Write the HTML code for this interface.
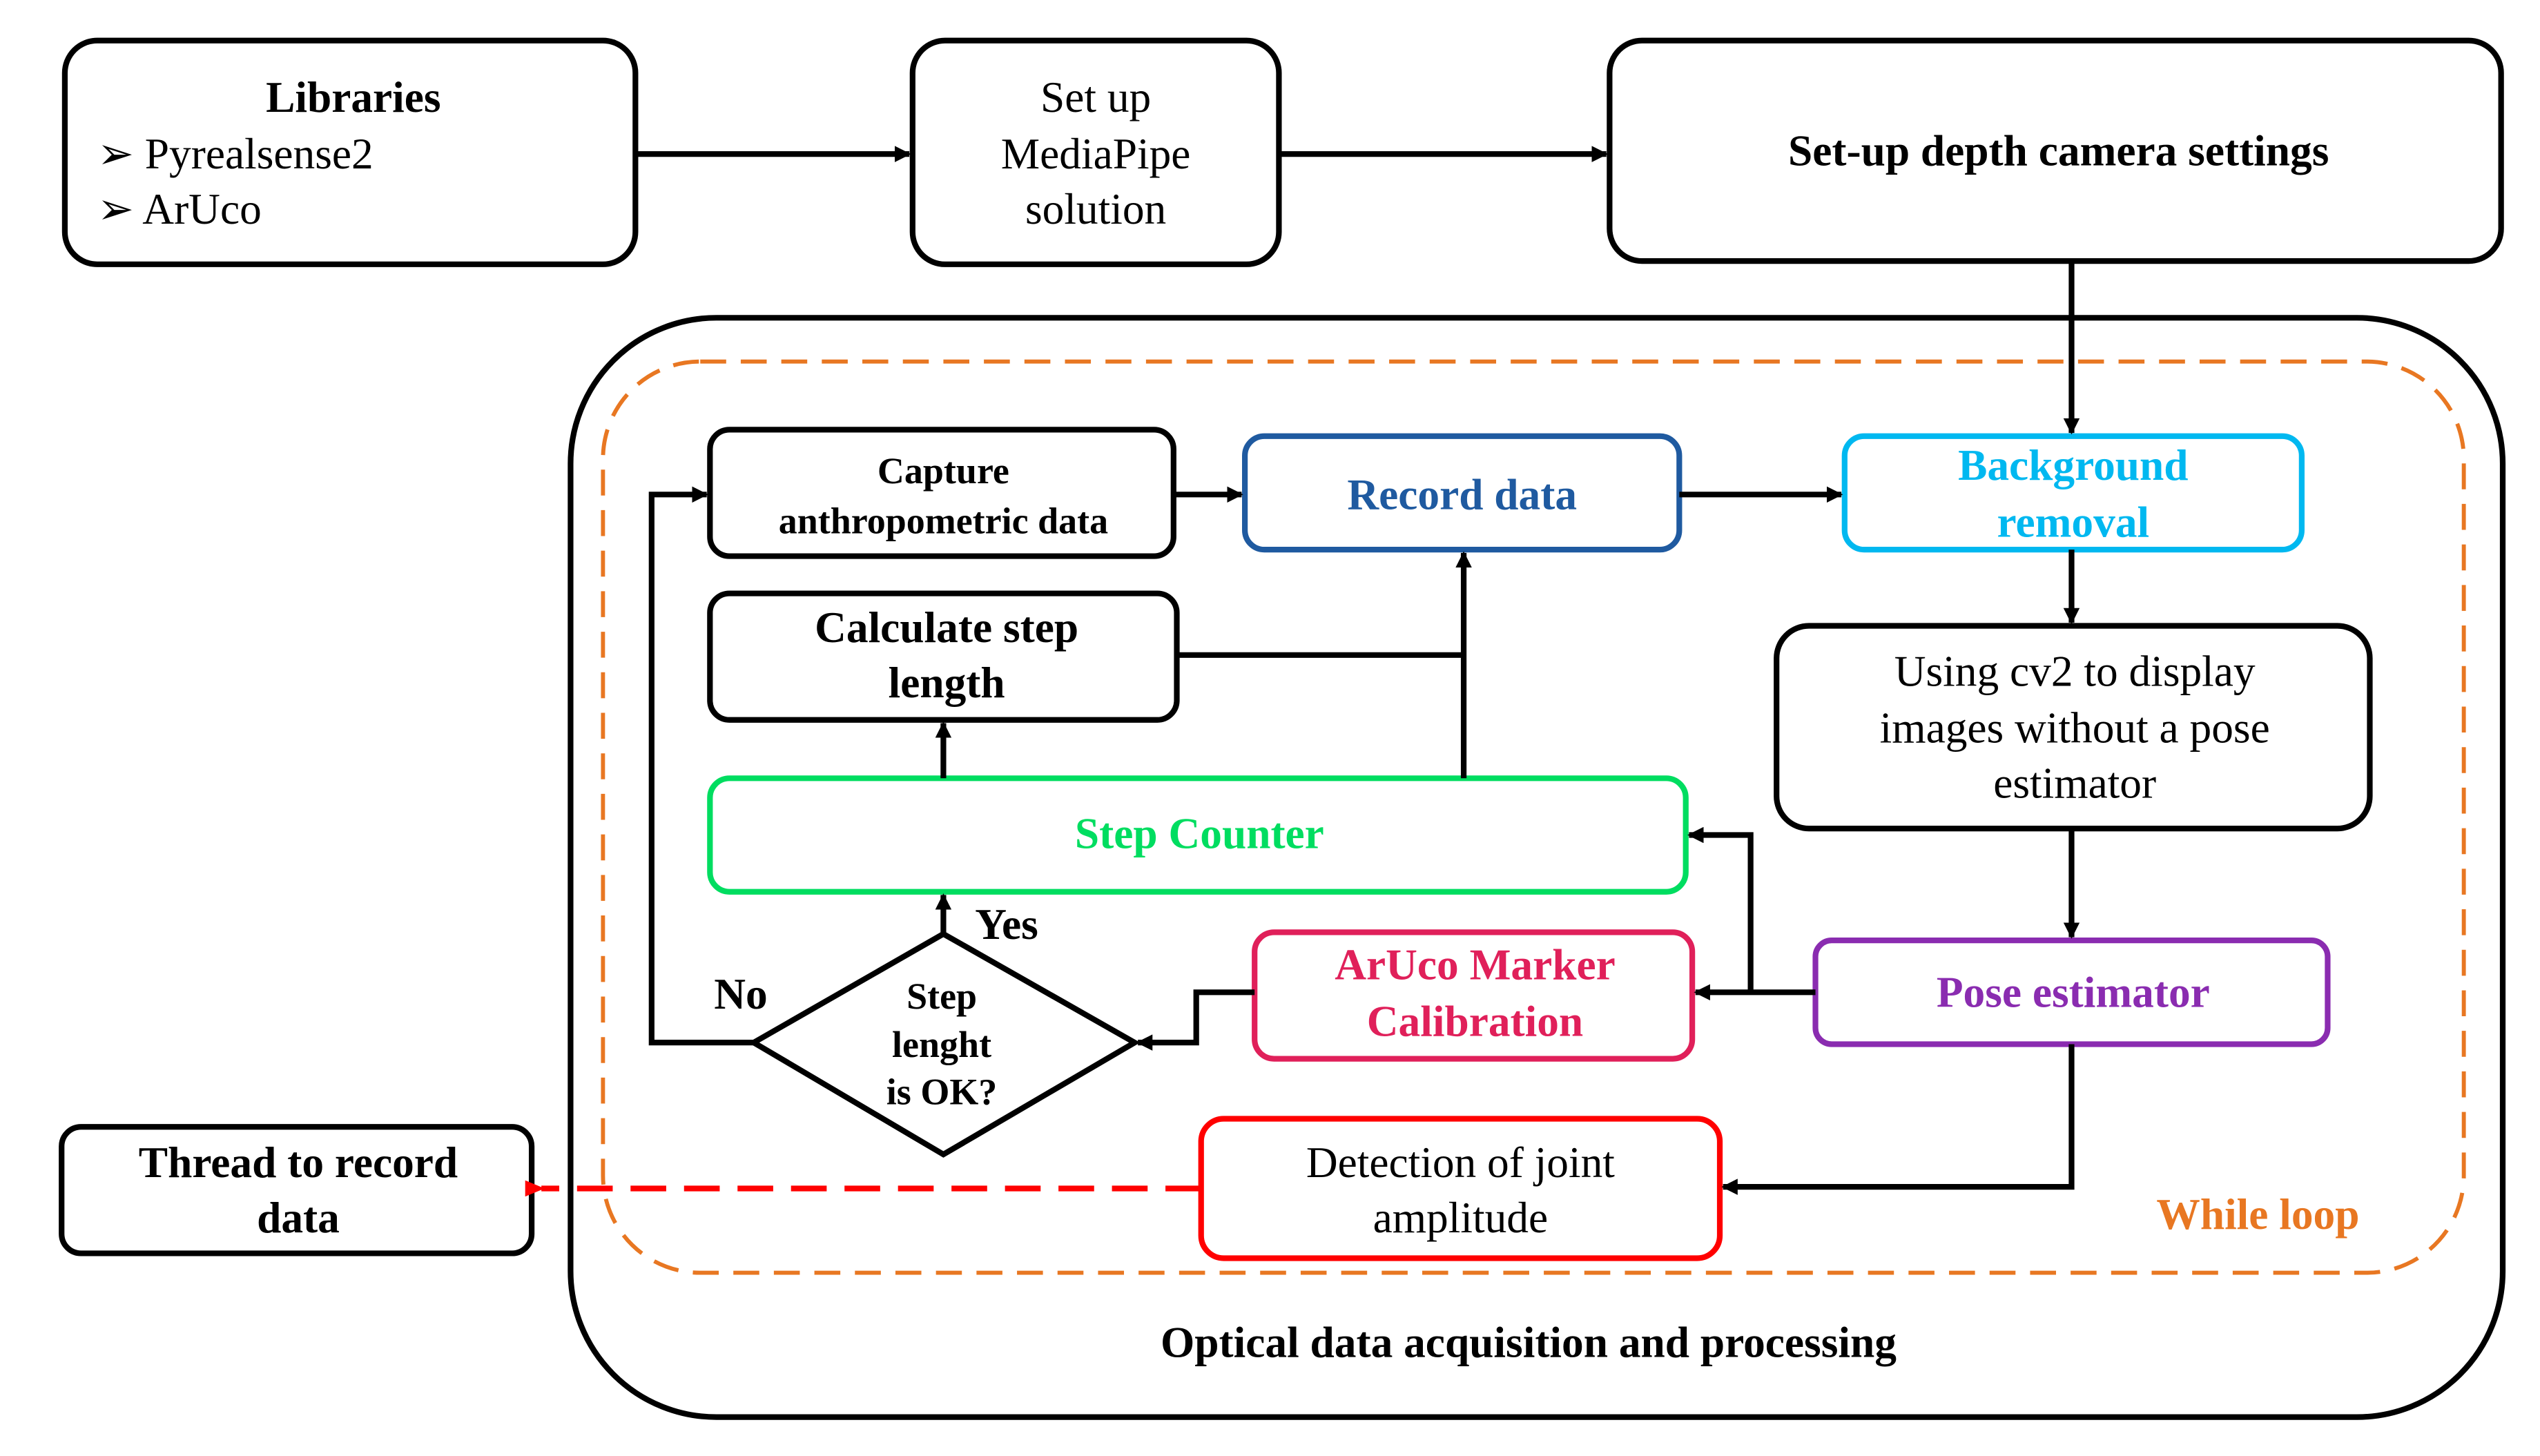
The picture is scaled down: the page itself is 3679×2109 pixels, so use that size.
<!DOCTYPE html>
<html><head><meta charset="utf-8"><style>
html,body{margin:0;padding:0;background:#fff;}
svg{display:block;}
text{font-family:"Liberation Serif",serif;text-anchor:middle;}
</style></head><body>
<svg width="3679" height="2109" viewBox="0 0 1567 898" preserveAspectRatio="none" xmlns="http://www.w3.org/2000/svg">
<defs>
<marker id="a" markerWidth="10" markerHeight="10" refX="9" refY="5" orient="auto" markerUnits="userSpaceOnUse"><path d="M0,0 L10,5 L0,10 Z" fill="#000"/></marker>
<marker id="r" markerWidth="12" markerHeight="10" refX="2" refY="5" orient="auto" markerUnits="userSpaceOnUse"><path d="M12,0 L0,5 L12,10 Z" fill="#f00"/></marker>
</defs>
<g fill="none" stroke-width="3.5">
<rect x="40" y="25" width="352" height="138" rx="20" stroke="#000"/>
<rect x="563" y="25" width="226" height="138" rx="20" stroke="#000"/>
<rect x="993" y="25" width="550" height="136" rx="20" stroke="#000"/>
<rect x="352" y="196" width="1192" height="678" rx="90" stroke="#000"/>
<rect x="372" y="223" width="1148" height="562" rx="60" stroke="#e87722" stroke-width="2.5" stroke-dasharray="16,9"/>
<rect x="438" y="265" width="286" height="78" rx="12" stroke="#000"/>
<rect x="768" y="269" width="268" height="70" rx="12" stroke="#1f5aa0"/>
<rect x="1138" y="269" width="282" height="70" rx="12" stroke="#00b8f0"/>
<rect x="1096" y="386" width="366" height="125" rx="20" stroke="#000"/>
<rect x="438" y="366" width="288" height="78" rx="12" stroke="#000"/>
<rect x="438" y="480" width="602" height="70" rx="12" stroke="#00dd60"/>
<rect x="774" y="575" width="270" height="78" rx="12" stroke="#e0205a"/>
<rect x="1120" y="580" width="316" height="64" rx="10" stroke="#8a2cb0"/>
<rect x="741" y="690" width="320" height="86" rx="14" stroke="#f00"/>
<rect x="38" y="695" width="290" height="78" rx="12" stroke="#000"/>
<path d="M582,576 L700,643 L582,712 L465,643 Z" stroke="#000"/>
</g>
<g fill="none" stroke="#000" stroke-width="3.5">
<path d="M392,95 H561" marker-end="url(#a)"/>
<path d="M789,95 H991" marker-end="url(#a)"/>
<path d="M1278,161 V267" marker-end="url(#a)"/>
<path d="M724,305 H766" marker-end="url(#a)"/>
<path d="M1036,305 H1136" marker-end="url(#a)"/>
<path d="M1278,339 V384" marker-end="url(#a)"/>
<path d="M1278,511 V578" marker-end="url(#a)"/>
<path d="M1120,612 H1046" marker-end="url(#a)"/>
<path d="M1080,612 V515 H1042" marker-end="url(#a)"/>
<path d="M774,612 H738 V643 H702" marker-end="url(#a)"/>
<path d="M582,576 V552" marker-end="url(#a)"/>
<path d="M465,643 H402 V305 H436" marker-end="url(#a)"/>
<path d="M582,480 V446" marker-end="url(#a)"/>
<path d="M903,480 V341" marker-end="url(#a)"/>
<path d="M726,404 H903"/>
<path d="M1278,644 V732 H1063" marker-end="url(#a)"/>
</g>
<path d="M741,733 H334" stroke="#f00" stroke-width="3.5" stroke-dasharray="22,11" fill="none" marker-end="url(#r)"/>
<g font-size="27">
<text x="218" y="69" font-weight="bold">Libraries</text>
<text x="60" y="104" style="text-anchor:start">➢ Pyrealsense2</text>
<text x="60" y="138" style="text-anchor:start">➢ ArUco</text>
<text x="676" y="69">Set up</text>
<text x="676" y="104">MediaPipe</text>
<text x="676" y="138">solution</text>
<text x="1270" y="102" font-weight="bold">Set-up depth camera settings</text>
<text x="582" y="298" font-size="23" font-weight="bold">Capture</text>
<text x="582" y="329" font-size="23" font-weight="bold">anthropometric data</text>
<text x="902" y="314" font-weight="bold" fill="#1f5aa0">Record data</text>
<text x="1279" y="296" font-weight="bold" fill="#00b8f0">Background</text>
<text x="1279" y="331" font-weight="bold" fill="#00b8f0">removal</text>
<text x="1280" y="423">Using cv2 to display</text>
<text x="1280" y="458">images without a pose</text>
<text x="1280" y="492">estimator</text>
<text x="584" y="396" font-weight="bold">Calculate step</text>
<text x="584" y="430" font-weight="bold">length</text>
<text x="740" y="523" font-weight="bold" fill="#00dd60">Step Counter</text>
<text x="910" y="604" font-weight="bold" fill="#e0205a">ArUco Marker</text>
<text x="910" y="639" font-weight="bold" fill="#e0205a">Calibration</text>
<text x="1279" y="621" font-weight="bold" fill="#8a2cb0">Pose estimator</text>
<text x="901" y="726">Detection of joint</text>
<text x="901" y="760">amplitude</text>
<text x="184" y="726" font-weight="bold">Thread to record</text>
<text x="184" y="760" font-weight="bold">data</text>
<text x="581" y="622" font-size="23" font-weight="bold">Step</text>
<text x="581" y="652" font-size="23" font-weight="bold">lenght</text>
<text x="581" y="681" font-size="23" font-weight="bold">is OK?</text>
<text x="621" y="579" font-weight="bold">Yes</text>
<text x="457" y="622" font-weight="bold">No</text>
<text x="1393" y="758" font-weight="bold" fill="#e87722">While loop</text>
<text x="943" y="837" font-weight="bold">Optical data acquisition and processing</text>
</g>
</svg>
</body></html>
